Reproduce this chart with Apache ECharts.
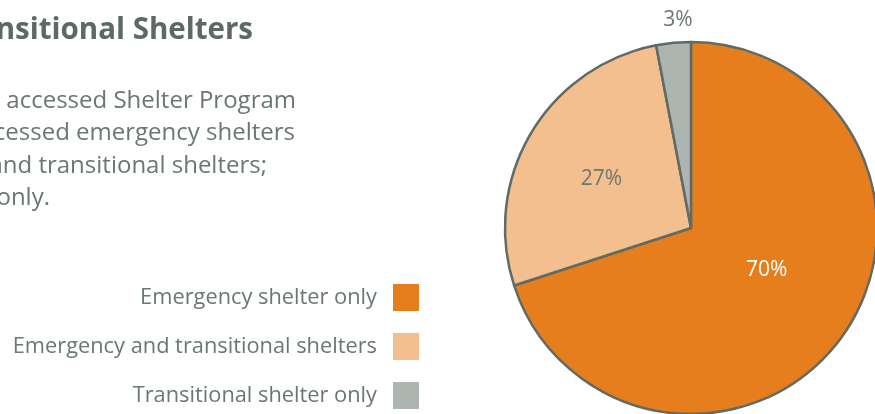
<!DOCTYPE html>
<html>
<head>
	<meta charset="utf-8">
	<title>Transitional Shelters</title>
	<script src="https://cdn.jsdelivr.net/npm/echarts@6/dist/echarts.min.js"></script>
	<style>
		html, body { margin: 0; padding: 0; background: #fff; }
	</style>
</head>
<body>
	<div id="main" style="width:875px;height:414px"></div>
	<script type="text/javascript">
var categories = ['Emergency shelter only', 'Emergency and transitional shelters', 'Transitional shelter only'];
var shares = [70, 27, 3];
var colors = ['#e67e1e', '#f4bf8f', '#adb5b0'];
var titleText = 'Transitional Shelters';
var introLines = [
    'who accessed Shelter Program',
    'accessed emergency shelters',
    'and transitional shelters;',
    'shelters only.'
];

var ink = '#5d6a63';
var textInk = '#6b7771';
var font = '"Open Sans", "Noto Sans", sans-serif';

var myChart = echarts.init(document.getElementById('main'));

// right edges of the visible paragraph lines, left part runs off the page
var lineRight = [296, 295, 267, 50];
var lineY = [101, 133, 166, 198];

var graphics = [{
    type: 'text',
    x: 253, y: 31,
    style: {
        text: titleText, fill: ink, align: 'right', verticalAlign: 'middle',
        font: 'bold 29.5px ' + font
    }
}];
introLines.forEach(function (t, i) {
    graphics.push({
        type: 'text',
        x: lineRight[i], y: lineY[i],
        style: {
            text: t, fill: textInk, align: 'right', verticalAlign: 'middle',
            font: '24px ' + font
        }
    });
});

var option = {
    animation: false,
    graphic: graphics,
    legend: {
        orient: 'vertical',
        align: 'right',
        right: 456,
        top: 284,
        padding: 0,
        itemWidth: 26,
        itemHeight: 27,
        itemGap: 22,
        icon: 'rect',
        itemStyle: { borderWidth: 0 },
        textStyle: {
            color: textInk, fontSize: 21.8, fontFamily: font,
            padding: [0, 11, 0, 0]
        },
        data: categories
    },
    series: [{
        type: 'pie',
        center: [691, 228],
        radius: 186,
        startAngle: 90,
        clockwise: true,
        itemStyle: { borderColor: '#5f6b64', borderWidth: 2.5 },
        label: {
            position: 'inside',
            formatter: '{c}%',
            fontSize: 21,
            fontFamily: font,
            color: textInk
        },
        labelLine: { show: false },
        emphasis: { disabled: true },
        data: categories.map(function (c, i) {
            var d = { name: c, value: shares[i], itemStyle: { color: colors[i] } };
            if (i === 0) d.label = { color: '#ffffff', offset: [-2, -14] };
            if (i === 1) d.label = { offset: [-7, 0] };
            // small slice: label sits just above the rim
            if (i === 2) d.label = { offset: [-4, -112] };
            return d;
        })
    }]
};

myChart.setOption(option);
	</script>
</body>
</html>
